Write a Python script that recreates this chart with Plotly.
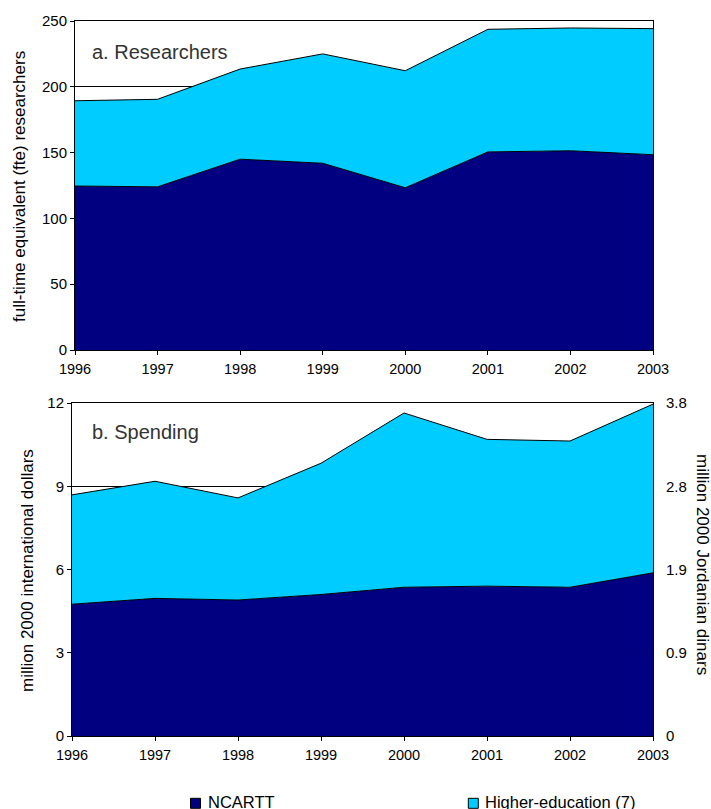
import plotly.graph_objects as go

years = [1996, 1997, 1998, 1999, 2000, 2001, 2002, 2003]

# a. Researchers (fte)
res_ncartt = [124.6, 124.0, 145.0, 141.9, 123.3, 150.5, 151.4, 148.4]
res_total = [189.4, 190.5, 213.5, 225.0, 212.2, 243.7, 244.7, 244.2]
res_higher = [t - n for t, n in zip(res_total, res_ncartt)]

# b. Spending (million 2000 international dollars)
sp_ncartt = [4.75, 4.96, 4.90, 5.10, 5.36, 5.40, 5.36, 5.88]
sp_total = [8.69, 9.18, 8.58, 9.83, 11.64, 10.69, 10.63, 11.96]
sp_higher = [t - n for t, n in zip(sp_total, sp_ncartt)]

right_tickvals = [0, 3, 6, 9, 12]
right_ticktext = ["0", "0.9", "1.9", "2.8", "3.8"]

legend_names = ["NCARTT", "Higher-education (7)"]

NAVY = "#000080"
LIGHT = "#00CCFF"
FONT = "Arial, Liberation Sans, sans-serif"

W, H = 711, 809

fig = go.Figure()

def add_area(x, y, color, xa, ya, grp, name):
    fig.add_trace(go.Scatter(
        x=x, y=y, mode="lines", stackgroup=grp, name=name,
        line=dict(color="black", width=1), fillcolor=color,
        xaxis=xa, yaxis=ya, showlegend=False, hoverinfo="x+y+name"))

add_area(years, res_ncartt, NAVY, "x", "y", "a", legend_names[0])
add_area(years, res_higher, LIGHT, "x", "y", "a", legend_names[1])
add_area(years, sp_ncartt, NAVY, "x2", "y2", "b", legend_names[0])
add_area(years, sp_higher, LIGHT, "x2", "y2", "b", legend_names[1])

# invisible trace to keep right axis alive
fig.add_trace(go.Scatter(x=[years[0]], y=[0], mode="markers", marker=dict(opacity=0),
                         xaxis="x2", yaxis="y3", showlegend=False, hoverinfo="skip"))

def px_x(p):
    return p / W

def px_y(p):
    return 1 - p / H

axis_common = dict(showline=True, linecolor="black", linewidth=1, mirror=True,
                   ticks="outside", ticklen=4, tickcolor="black", zeroline=False,
                   tickfont=dict(family=FONT, size=14.5, color="black"))

# legend (drawn as squares + text at the bottom)
legend_shapes = []
legend_annots = []
for name, color, sx in zip(legend_names, [NAVY, LIGHT], [190.5, 468.3]):
    legend_shapes.append(dict(type="rect", xref="paper", yref="paper",
                              x0=px_x(sx), x1=px_x(sx + 10), y0=px_y(808.3), y1=px_y(798.3),
                              fillcolor=color, line=dict(color="black", width=1)))
    legend_annots.append(dict(text=name, x=px_x(sx + 15), y=px_y(802), xref="paper", yref="paper",
                              xanchor="left", yanchor="middle", showarrow=False,
                              font=dict(family=FONT, size=16.5, color="black")))

fig.update_layout(
    width=W, height=H,
    margin=dict(l=0, r=0, t=0, b=0, autoexpand=False),
    paper_bgcolor="white", plot_bgcolor="white",
    font=dict(family=FONT, color="black"),
    showlegend=False,
    xaxis=dict(domain=[px_x(75), px_x(653)], anchor="y", range=[1996, 2003],
               tickvals=years, showgrid=False, ticklabelstandoff=2, **axis_common),
    yaxis=dict(domain=[px_y(350), px_y(21)], anchor="x", range=[0, 250], dtick=50,
               showgrid=True, gridcolor="black", gridwidth=1,
               **{**axis_common, "tickfont": dict(family=FONT, size=15, color="black")}),
    xaxis2=dict(domain=[px_x(72), px_x(653)], anchor="y2", range=[1996, 2003],
                tickvals=years, showgrid=False, ticklabelstandoff=2, **axis_common),
    yaxis2=dict(domain=[px_y(736), px_y(403)], anchor="x2", range=[0, 12], dtick=3,
                showgrid=True, gridcolor="black", gridwidth=1,
                **{**axis_common, "tickfont": dict(family=FONT, size=15, color="black")}),
    yaxis3=dict(overlaying="y2", anchor="x2", side="right", range=[0, 12],
                tickvals=right_tickvals, ticktext=right_ticktext, showgrid=False,
                showline=False, zeroline=False, ticks="", ticklabelstandoff=12,
                tickfont=dict(family=FONT, size=15, color="black")),
    shapes=legend_shapes,
    annotations=[
        dict(text="a. Researchers", x=px_x(90), y=px_y(52), xref="paper", yref="paper",
             xanchor="left", yanchor="middle", showarrow=False,
             font=dict(family=FONT, size=20, color="#333333")),
        dict(text="b. Spending", x=px_x(90), y=px_y(432), xref="paper", yref="paper",
             xanchor="left", yanchor="middle", showarrow=False,
             font=dict(family=FONT, size=20, color="#333333")),
        dict(text="full-time equivalent (fte) researchers", x=px_x(19), y=px_y(187),
             xref="paper", yref="paper", xanchor="center", yanchor="middle",
             textangle=-90, showarrow=False, font=dict(family=FONT, size=17, color="black")),
        dict(text="million 2000 international dollars", x=px_x(27), y=px_y(571),
             xref="paper", yref="paper", xanchor="center", yanchor="middle",
             textangle=-90, showarrow=False, font=dict(family=FONT, size=17, color="black")),
        dict(text="million 2000 Jordanian dinars", x=px_x(703), y=px_y(564),
             xref="paper", yref="paper", xanchor="center", yanchor="middle",
             textangle=90, showarrow=False, font=dict(family=FONT, size=17, color="black")),
    ] + legend_annots,
)

fig.write_html("out.html", config={"displayModeBar": False},
               post_script="document.body.style.margin='0';document.body.style.overflow='hidden';")
